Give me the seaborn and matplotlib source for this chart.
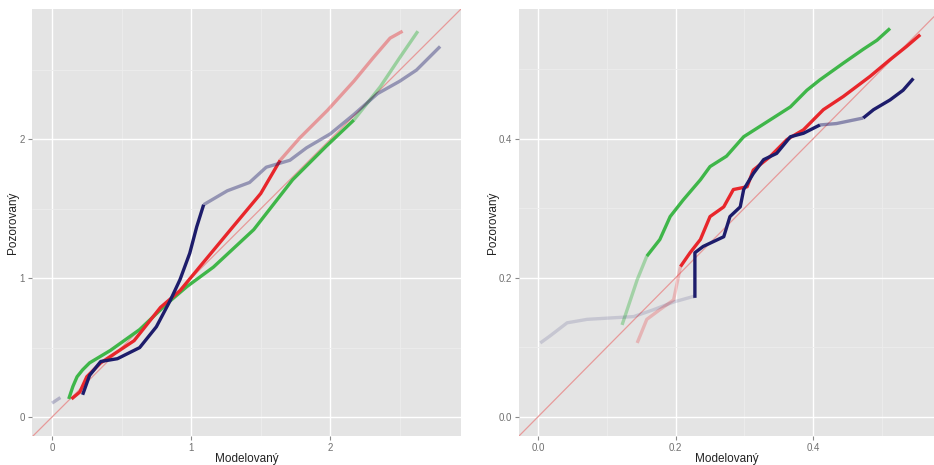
import numpy as np
import pandas as pd
import matplotlib
matplotlib.use("Agg")
import matplotlib.pyplot as plt
import seaborn as sns

# ---------------- data ----------------
# Left panel
L_navy_x = [0.00, 0.06, None, 0.22, 0.27, 0.35, 0.47, 0.63, 0.75, 0.85, 0.92, 0.99, 1.04, 1.09,
            1.26, 1.42, 1.54, 1.71, 1.83, 2.00, 2.17, 2.34, 2.50, 2.62, 2.79]
L_navy_y = [0.10, 0.14, None, 0.16, 0.30, 0.40, 0.42, 0.50, 0.65, 0.84, 0.99, 1.18, 1.37, 1.53,
            1.63, 1.69, 1.80, 1.85, 1.94, 2.04, 2.18, 2.33, 2.42, 2.50, 2.67]
L_red_x = [0.14, 0.20, 0.25, 0.35, 0.59, 0.78, 0.92, 1.06, 1.30, 1.50, 1.64,
           1.78, 1.98, 2.17, 2.31, 2.43, 2.52]
L_red_y = [0.13, 0.18, 0.29, 0.39, 0.55, 0.79, 0.91, 1.08, 1.37, 1.61, 1.85,
           2.01, 2.21, 2.42, 2.59, 2.73, 2.78]
L_green_x = [0.12, 0.15, 0.18, 0.22, 0.27, 0.42, 0.63, 0.83, 0.97, 1.16, 1.45, 1.73, 1.97, 2.17,
             2.36, 2.50, 2.63]
L_green_y = [0.13, 0.22, 0.29, 0.34, 0.39, 0.48, 0.63, 0.82, 0.94, 1.08, 1.35, 1.71, 1.95, 2.14,
             2.38, 2.59, 2.78]

# Right panel
R_green_x = [0.122, 0.144, 0.158, 0.177, 0.192, 0.211, 0.236, 0.250, 0.274, 0.299, 0.337,
             0.367, 0.391, 0.410, 0.444, 0.473, 0.493, 0.512]
R_green_y = [0.132, 0.197, 0.231, 0.255, 0.288, 0.312, 0.341, 0.360, 0.375, 0.403, 0.427,
             0.446, 0.470, 0.485, 0.509, 0.529, 0.542, 0.559]
R_red_x = [0.144, 0.158, 0.177, 0.197, 0.207, 0.221, 0.236, 0.250, 0.270, 0.284, 0.304,
           0.313, 0.337, 0.362, 0.386, 0.415, 0.444, 0.483, 0.512, 0.536, 0.556]
R_red_y = [0.106, 0.140, 0.154, 0.168, 0.216, 0.236, 0.255, 0.288, 0.302, 0.327, 0.331,
           0.355, 0.374, 0.399, 0.413, 0.442, 0.461, 0.490, 0.514, 0.533, 0.550]
R_navy_x = [0.003, 0.017, 0.042, 0.071, 0.139, 0.168, 0.197, 0.226, 0.228, 0.228, 0.240,
            0.270, 0.279, 0.294, 0.299, 0.313, 0.328, 0.347, 0.367, 0.386, 0.410, 0.434,
            0.473, 0.488, 0.512, 0.531, 0.546]
R_navy_y = [0.106, 0.116, 0.135, 0.140, 0.144, 0.154, 0.165, 0.173, 0.171, 0.236, 0.245,
            0.259, 0.288, 0.302, 0.327, 0.350, 0.370, 0.379, 0.403, 0.408, 0.420, 0.422,
            0.430, 0.442, 0.456, 0.470, 0.487]

x_ticks_left = [0, 1, 2]
y_ticks_left = [0, 1, 2]
x_ticks_right = [0.0, 0.2, 0.4]
y_ticks_right = [0.0, 0.2, 0.4]
x_label = "Modelovaný"
y_label = "Pozorovaný"

# ---------------- style ----------------
RED = "#E8262B"
GREEN = "#3FB649"
NAVY = "#1D1C6B"
BG = "#E4E4E4"

sns.set_theme(style="darkgrid", rc={
    "axes.facecolor": BG,
    "figure.facecolor": "white",
    "grid.color": "white",
    "grid.linewidth": 1.0,
    "axes.edgecolor": BG,
})
plt.rcParams["font.family"] = ["Liberation Sans", "DejaVu Sans"]

fig = plt.figure(figsize=(9.34, 4.65), dpi=100)
axL = fig.add_axes([32/934, 1-436/465, 429/934, 427/465])
axR = fig.add_axes([519/934, 1-436/465, 415/934, 427/465])


def draw(ax, xs, ys, color, alpha_fn):
    """Draw a series in runs of equal opacity (opacity chosen by x position)."""
    pieces = []
    cur = []
    for x, y in zip(xs, ys):
        if x is None:
            if cur:
                pieces.append(cur)
            cur = []
            continue
        cur.append((x, y))
    if cur:
        pieces.append(cur)
    for piece in pieces:
        runs = []  # (alpha, [points])
        for (x0, y0), (x1, y1) in zip(piece[:-1], piece[1:]):
            a = alpha_fn((x0 + x1) / 2)
            if runs and runs[-1][0] == a:
                runs[-1][1].append((x1, y1))
            else:
                runs.append((a, [(x0, y0), (x1, y1)]))
        for a, pts in runs:
            df = pd.DataFrame(pts, columns=["x", "y"])
            sns.lineplot(data=df, x="x", y="y", ax=ax, color=color, alpha=a,
                         lw=2.4, sort=False, estimator=None,
                         solid_capstyle="butt", solid_joinstyle="round")


def style_axes(ax, xlim, ylim, xt, yt, fmt, ylab_x):
    ax.set_xticks(xt)
    ax.set_yticks(yt)
    ax.set_xticklabels([fmt(v) for v in xt])
    ax.set_yticklabels([fmt(v) for v in yt])
    step = xt[1] - xt[0]
    minor_x = [v + step/2 for v in [xt[0] - step] + list(xt)]
    minor_y = [v + step/2 for v in [yt[0] - step] + list(yt)]
    ax.set_xticks(minor_x, minor=True)
    ax.set_yticks(minor_y, minor=True)
    ax.grid(which="major", color="white", lw=1.0)
    ax.grid(which="minor", color="#EDEDED", lw=0.6)
    ax.tick_params(axis="both", which="major", length=3, width=0.8, color="#8A8A8A",
                   labelsize=7, labelcolor="#707070", pad=2, direction="out",
                   bottom=True, left=True)
    ax.tick_params(axis="both", which="minor", length=0)
    ax.set_xlabel(x_label, fontsize=8.5, labelpad=0, color="#222222")
    ax.set_ylabel(y_label, fontsize=8.5, color="#222222", va="center")
    ax.yaxis.set_label_coords(ylab_x, 0.5)
    ax.axline((0, 0), slope=1, color="#E79A9A", lw=0.9, zorder=1)
    for s in ax.spines.values():
        s.set_visible(False)
    ax.set_xlim(*xlim)
    ax.set_ylim(*ylim)


# Left panel
draw(axL, L_green_x, L_green_y, GREEN, lambda x: 1.0 if x < 2.17 else 0.45)
draw(axL, L_red_x, L_red_y, RED, lambda x: 1.0 if x < 1.64 else 0.4)
draw(axL, L_navy_x, L_navy_y, NAVY,
     lambda x: 0.25 if x < 0.1 else (1.0 if x < 1.09 else 0.4))
style_axes(axL, (-0.144, 2.94), (-0.137, 2.94), x_ticks_left, y_ticks_left,
           lambda v: f"{v:g}", (13 - 32) / 429)

# Right panel
draw(axR, R_green_x, R_green_y, GREEN, lambda x: 0.4 if x < 0.16 else 1.0)
draw(axR, R_red_x, R_red_y, RED, lambda x: 0.25 if x < 0.205 else 1.0)
draw(axR, R_navy_x, R_navy_y, NAVY,
     lambda x: 0.15 if x < 0.2275 else (1.0 if x < 0.41 else (0.45 if x < 0.47 else 1.0)))
style_axes(axR, (-0.028, 0.576), (-0.028, 0.587), x_ticks_right, y_ticks_right,
           lambda v: f"{v:.1f}", (493 - 519) / 415)

fig.savefig("out.png", dpi=100)
